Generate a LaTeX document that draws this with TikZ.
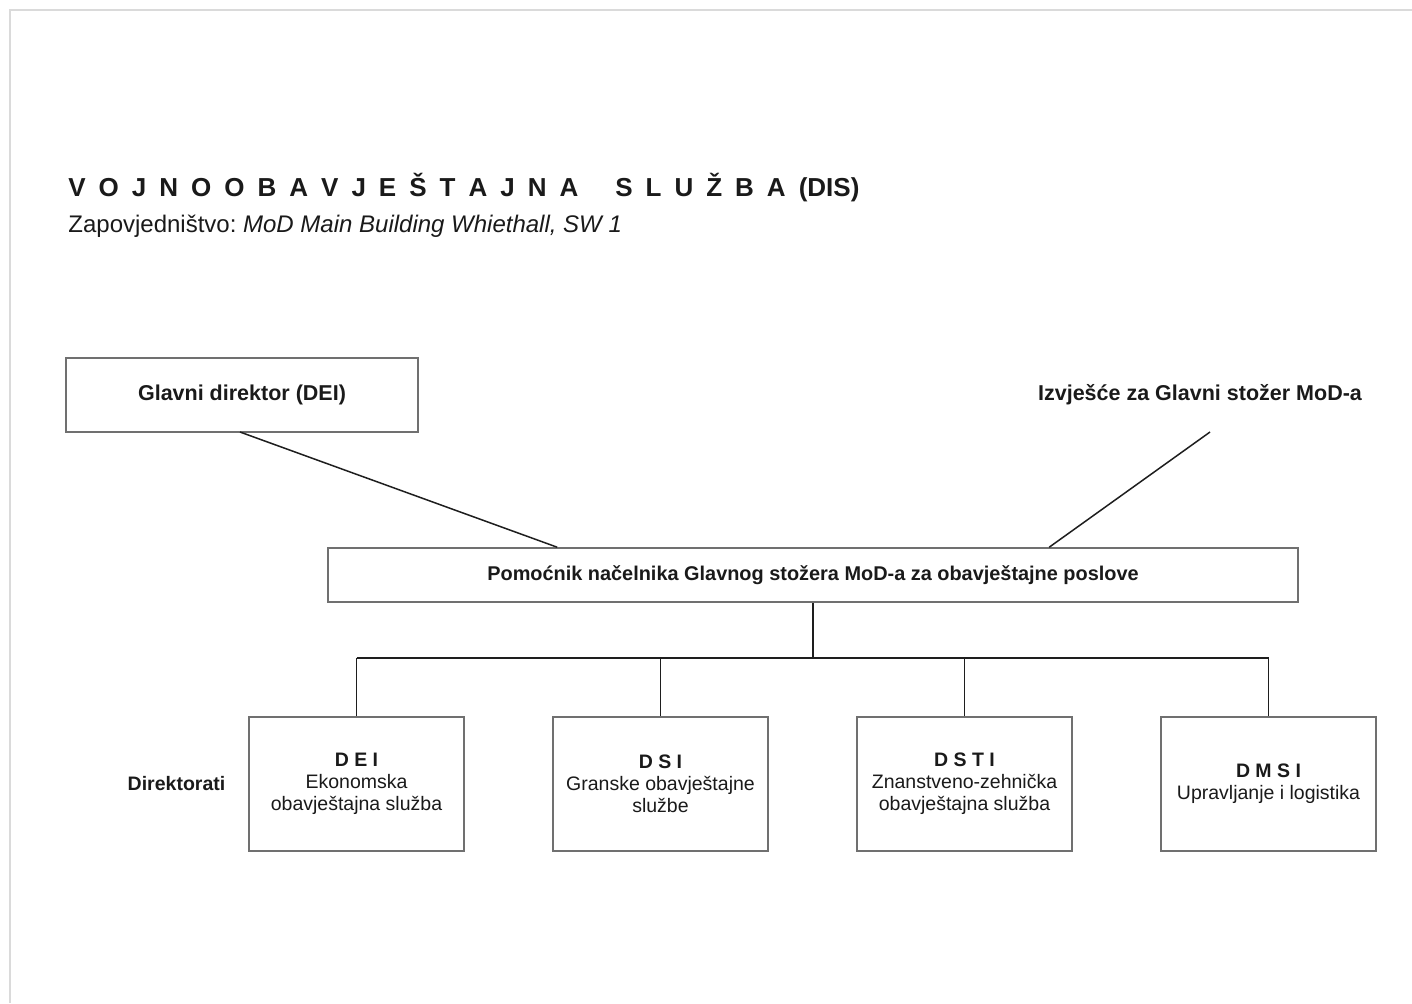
\documentclass[tikz,border=0pt]{standalone}
\usepackage{fontspec}
\setmainfont{Liberation Sans}
\frenchspacing
\definecolor{boxgray}{HTML}{707070}
\definecolor{linegray}{HTML}{1E1E1E}
\definecolor{pagegray}{HTML}{DADADA}
\definecolor{textgray}{HTML}{1A1A1A}
\newcommand\titlefnt{\fontsize{13}{15}\selectfont\bfseries}
\newcommand\subfnt{\fontsize{12}{14}\selectfont}
\newcommand\boxfnt{\fontsize{10.75}{13}\selectfont\bfseries}
\newcommand\pomfnt{\fontsize{9.95}{12}\selectfont\bfseries}
\newcommand\dirfnt{\fontsize{9.75}{11}\selectfont}
\begin{document}
\begin{tikzpicture}[x=0.5pt,y=-0.5pt,
  box/.style={draw=boxgray, line width=0.8pt, fill=white, inner sep=0pt, align=center, text=textgray},
  dirbox/.style={box, minimum width=107.5pt, minimum height=67pt, font=\dirfnt},
  conn/.style={draw=linegray, line width=0.75pt},
  lbl/.style={inner sep=0pt, text=textgray}]
\useasboundingbox (0,0) rectangle (1412,1003);
\draw[pagegray, line width=0.6pt] (10,1003) -- (10,10) -- (1412,10);

\node[lbl, anchor=west, font=\titlefnt] (title) at (68,188)
  {\spaceskip=0.5em V O J N O O B A V J E Š T A J N A\hspace{12pt} S L U Ž B A \spaceskip=0.3em (DIS)};
\node[lbl, anchor=west, font=\subfnt] (sub) at (68,226)
  {Zapovjedništvo: \textit{MoD Main Building Whiethall, SW 1}};

\node[box, minimum width=176pt, minimum height=37pt, font=\boxfnt] (gd) at (242,395) {Glavni direktor (DEI)};
\node[lbl, font=\boxfnt] (izv) at (1200,395) {Izvješće za Glavni stožer MoD-a};
\coordinate (izvfoot) at (1210,432);
\node[box, minimum width=485pt, minimum height=27pt, font=\pomfnt] (pom) at (813,575)
  {Pomoćnik načelnika Glavnog stožera MoD-a za obavještajne poslove};

\draw[conn] (240,432) coordinate (gdfoot) -- ([xshift=115pt]pom.north west);
\draw[conn] (izvfoot) -- ([xshift=361pt]pom.north west);

\node[dirbox] (d1) at (356.5,784) {{\bfseries D E I}\\Ekonomska\\obavještajna služba};
\node[dirbox] (d2) at (660.5,784) {{\bfseries D S I}\\Granske obavještajne\\službe};
\node[dirbox] (d3) at (964.5,784) {{\bfseries D S T I}\\Znanstveno-zehnička\\obavještajna služba};
\node[dirbox] (d4) at (1268.5,784) {{\bfseries D M S I}\\Upravljanje i logistika};
\node[lbl, font=\dirfnt\bfseries] (dir) at (176.5,784) {Direktorati};

\coordinate (bus) at (813,658);
\draw[conn] (pom.south) -- (bus);
\draw[conn] (d1.north |- bus) -- (d4.north |- bus);
\foreach \n in {d1,d2,d3,d4} \draw[conn] (\n.north) -- (\n.north |- bus);
\end{tikzpicture}
\end{document}
